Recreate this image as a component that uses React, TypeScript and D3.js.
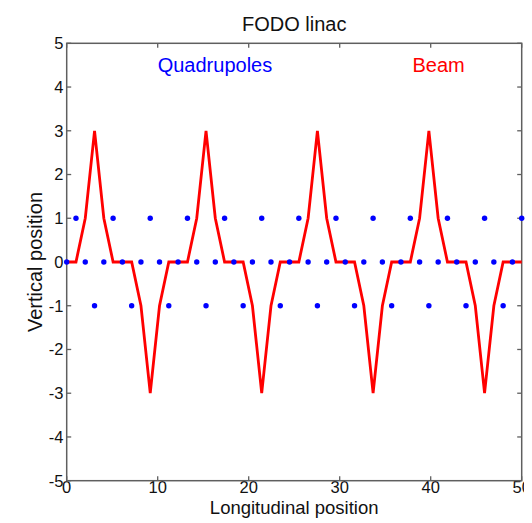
import React from "react";
import * as d3 from "d3";

// Longitudinal positions of the sampled elements (50 samples over 0..50)
const POSITIONS = [
  0, 1.02, 2.04, 3.06, 4.08, 5.1, 6.12, 7.14, 8.16, 9.18,
  10.2, 11.22, 12.24, 13.27, 14.29, 15.31, 16.33, 17.35, 18.37, 19.39,
  20.41, 21.43, 22.45, 23.47, 24.49, 25.51, 26.53, 27.55, 28.57, 29.59,
  30.61, 31.63, 32.65, 33.67, 34.69, 35.71, 36.73, 37.76, 38.78, 39.8,
  40.82, 41.84, 42.86, 43.88, 44.9, 45.92, 46.94, 47.96, 48.98, 50,
];

// Beam vertical position at each sample
const BEAM = [
  0, 0, 1, 3, 1, 0, 0, 0, -1, -3, -1, 0,
  0, 0, 1, 3, 1, 0, 0, 0, -1, -3, -1, 0,
  0, 0, 1, 3, 1, 0, 0, 0, -1, -3, -1, 0,
  0, 0, 1, 3, 1, 0, 0, 0, -1, -3, -1, 0,
  0, 0,
];

// Quadrupole markers at each sample
const QUADS = [
  0, 1, 0, -1, 0, 1, 0, -1, 0, 1, 0, -1,
  0, 1, 0, -1, 0, 1, 0, -1, 0, 1, 0, -1,
  0, 1, 0, -1, 0, 1, 0, -1, 0, 1, 0, -1,
  0, 1, 0, -1, 0, 1, 0, -1, 0, 1, 0, -1,
  0, 1,
];

const X_TICKS = [0, 10, 20, 30, 40, 50];
const Y_TICKS = [-5, -4, -3, -2, -1, 0, 1, 2, 3, 4, 5];

const W = 532;
const H = 523;
const FONT = "'Liberation Sans', Arial, Helvetica, sans-serif";

export default function App() {
  const left = 66.7, right = 521.7, top = 43.3, bottom = 480.7;
  const x = d3.scaleLinear().domain([0, 50]).range([left, right]);
  const y = d3.scaleLinear().domain([-5, 5]).range([bottom, top]);

  const line = d3
    .line<number>()
    .x((_, i) => x(POSITIONS[i]))
    .y((d) => y(d));

  const tl = 4.5;
  const axisColor = "#5f5f5f";

  return (
    <svg
      width={W}
      height={H}
      style={{ position: "absolute", left: 0, top: 0, background: "#fff" }}
      fontFamily={FONT}
    >
      <defs>
        <clipPath id="figclip">
          <rect x={0} y={0} width={524} height={H} />
        </clipPath>
      </defs>
      <rect x={0} y={0} width={W} height={H} fill="#fff" />
      {/* ticks */}
      <g clipPath="url(#figclip)">
        {X_TICKS.map((t) => (
          <g key={"xt" + t}>
            <line x1={x(t)} x2={x(t)} y1={bottom} y2={bottom - tl} stroke={axisColor} strokeWidth={1.3} />
            <line x1={x(t)} x2={x(t)} y1={top} y2={top + tl} stroke={axisColor} strokeWidth={1.3} />
            <text x={x(t)} y={493} fontSize={16.5} textAnchor="middle" fill="#111">
              {t}
            </text>
          </g>
        ))}
      </g>
      {Y_TICKS.map((t) => (
        <g key={"yt" + t}>
          <line x1={left} x2={left + tl} y1={y(t)} y2={y(t)} stroke={axisColor} strokeWidth={1.3} />
          <line x1={right} x2={right - tl} y1={y(t)} y2={y(t)} stroke={axisColor} strokeWidth={1.3} />
          <text x={63.5} y={y(t)} dy="0.36em" fontSize={16.5} textAnchor="end" fill="#111">
            {t}
          </text>
        </g>
      ))}
      {/* box */}
      <rect
        x={left}
        y={top}
        width={right - left}
        height={bottom - top}
        fill="none"
        stroke={axisColor}
        strokeWidth={1.5}
      />
      {/* beam */}
      <path d={line(BEAM) || ""} fill="none" stroke="#ff0000" strokeWidth={2.8} strokeLinejoin="miter" />
      {/* quadrupoles */}
      {QUADS.map((q, i) => (
        <circle key={"q" + i} cx={x(POSITIONS[i])} cy={y(q)} r={2.7} fill="#0000ff" />
      ))}
      {/* annotations */}
      <text x={x(10)} y={y(4.5)} dy="0.36em" fontSize={20} fill="#0000ff">
        Quadrupoles
      </text>
      <text x={x(38)} y={y(4.5)} dy="0.36em" fontSize={20} fill="#ff0000">
        Beam
      </text>
      {/* title */}
      <text x={(left + right) / 2} y={31} fontSize={20} textAnchor="middle" fill="#111">
        FODO linac
      </text>
      {/* axis labels */}
      <text x={(left + right) / 2} y={513.5} fontSize={18.5} textAnchor="middle" fill="#111">
        Longitudinal position
      </text>
      <text
        transform={`translate(41.5, ${(top + bottom) / 2}) rotate(-90)`}
        fontSize={20}
        textAnchor="middle"
        fill="#111"
      >
        Vertical position
      </text>
    </svg>
  );
}
